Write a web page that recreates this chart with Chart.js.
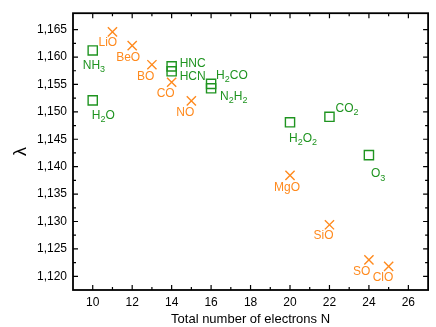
<!DOCTYPE html>
<html>
<head>
<meta charset="utf-8">
<script src="https://cdn.jsdelivr.net/npm/chart.js@4.4.1/dist/chart.umd.min.js"></script>
<style>
  html, body { margin: 0; padding: 0; background: #fff; }
  #wrap { width: 436px; height: 327px; }
</style>
</head>
<body>
<div id="wrap"><canvas id="chart" width="436" height="327"></canvas></div>
<script>
// tick values
const xTicks = [10, 12, 14, 16, 18, 20, 22, 24, 26];
const yTicks = [1.120, 1.125, 1.130, 1.135, 1.140, 1.145, 1.150, 1.155, 1.160, 1.165];

// green squares (polyatomic)
const namesGreen = ["NH_3", "H_2O", "HNC", "HCN", "H_2CO", "N_2H_2", "H_2O_2", "CO_2", "O_3"];
const electronsGreen = [10, 10, 14, 14, 16, 16, 20, 22, 24];
const lambdaGreen = [1.1612, 1.1521, 1.1583, 1.1574, 1.1551, 1.1543, 1.1481, 1.1491, 1.1421];

// orange crosses (diatomic oxides)
const namesOrange = ["LiO", "BeO", "BO", "CO", "NO", "MgO", "SiO", "SO", "ClO"];
const electronsOrange = [11, 12, 13, 14, 15, 20, 22, 24, 25];
const lambdaOrange = [1.1646, 1.1621, 1.1586, 1.1554, 1.1520, 1.1384, 1.1294, 1.1230, 1.1218];

const GREEN = "#1f9420";
const ORANGE = "#ff8a1e";
const FONT = "Liberation Sans, Arial, sans-serif";

// label placement (pixels from point centre, left edge of text)
const offGreen = [[-10, 15], [-1, 15], [8, -3], [8, 5], [5, -8], [9, 8], [-1, 16], [6, -8], [2, 19]];
const offOrange = [[-14, 11], [-16, 12], [-15, 12], [-15, 11], [-15, 12], [-16, 12], [-16, 11], [-16, 12], [-16, 11]];

const toPts = (xs, ys) => xs.map((x, i) => ({ x: x, y: ys[i] }));

// draw "H_2O" style text with subscripts
function drawChem(ctx, txt, x, y) {
  let cx = x;
  for (let i = 0; i < txt.length; i++) {
    if (txt[i] === "_") {
      i++;
      ctx.font = "9px " + FONT;
      ctx.fillText(txt[i], cx, y + 4);
      cx += ctx.measureText(txt[i]).width;
    } else {
      ctx.font = "12px " + FONT;
      ctx.fillText(txt[i], cx, y);
      cx += ctx.measureText(txt[i]).width;
    }
  }
}

const framePlugin = {
  id: "frame",
  beforeDatasetsDraw(chart) {
    const { ctx, chartArea: a, scales } = chart;
    ctx.save();
    ctx.strokeStyle = "#000";
    ctx.lineWidth = 1.8;
    ctx.strokeRect(a.left, a.top, a.right - a.left, a.bottom - a.top);
    ctx.lineWidth = 1.2;
    ctx.beginPath();
    // x ticks, major every 2, minor at odd values
    for (let v = 10; v <= 26; v++) {
      const px = scales.x.getPixelForValue(v);
      const len = (v % 2 === 0) ? 5 : 3;
      ctx.moveTo(px, a.bottom); ctx.lineTo(px, a.bottom - len);
      ctx.moveTo(px, a.top); ctx.lineTo(px, a.top + len);
    }
    // y ticks, minor halfway
    for (let k = 0; k < 20; k++) {
      const v = 1.1175 + k * 0.0025;
      const py = scales.y.getPixelForValue(v);
      if (py < a.top + 2 || py > a.bottom - 2) continue;
      const len = (k % 2 === 1) ? 5 : 3;
      ctx.moveTo(a.left, py); ctx.lineTo(a.left + len, py);
      ctx.moveTo(a.right, py); ctx.lineTo(a.right - len, py);
    }
    ctx.stroke();
    ctx.restore();
  },
  afterDatasetsDraw(chart) {
    const { ctx, scales } = chart;
    ctx.save();
    ctx.textBaseline = "middle";
    ctx.textAlign = "left";
    const put = (names, xs, ys, offs, color) => {
      ctx.fillStyle = color;
      names.forEach((n, i) => {
        const px = scales.x.getPixelForValue(xs[i]);
        const py = scales.y.getPixelForValue(ys[i]);
        drawChem(ctx, n, px + offs[i][0], py + offs[i][1]);
      });
    };
    put(namesGreen, electronsGreen, lambdaGreen, offGreen, GREEN);
    put(namesOrange, electronsOrange, lambdaOrange, offOrange, ORANGE);
    ctx.restore();
  }
};

new Chart(document.getElementById("chart"), {
  type: "scatter",
  data: {
    datasets: [
      {
        data: toPts(electronsGreen, lambdaGreen),
        pointStyle: "rect",
        pointRadius: 6.5,
        borderColor: GREEN,
        backgroundColor: "rgba(0,0,0,0)",
        borderWidth: 1.4
      },
      {
        data: toPts(electronsOrange, lambdaOrange),
        pointStyle: "crossRot",
        pointRadius: 6.5,
        borderColor: ORANGE,
        backgroundColor: ORANGE,
        borderWidth: 1.4
      }
    ]
  },
  options: {
    responsive: false,
    animation: false,
    layout: { padding: { left: 0, top: 6, right: 3, bottom: 0 } },
    plugins: { legend: { display: false }, tooltip: { enabled: false } },
    scales: {
      x: {
        type: "linear",
        min: 9, max: 27,
        afterFit: s => { s.height = 37; },
        afterBuildTicks: s => { s.ticks = xTicks.map(v => ({ value: v })); },
        grid: { display: false, drawTicks: false, tickLength: 0 },
        border: { display: false },
        ticks: { color: "#000", font: { size: 12, family: FONT }, padding: 5 },
        title: {
          display: true, text: "Total number of electrons N", color: "#000",
          font: { size: 13, family: FONT }, padding: { top: 0, bottom: 0 }
        }
      },
      y: {
        type: "linear",
        min: 1.1175, max: 1.168,
        afterFit: s => { s.width = 73; },
        afterBuildTicks: s => { s.ticks = yTicks.map(v => ({ value: v })); },
        grid: { display: false, drawTicks: false, tickLength: 0 },
        border: { display: false },
        ticks: {
          color: "#000", font: { size: 12, family: FONT }, padding: 6,
          callback: v => v.toFixed(3).replace(".", ",")
        },
        title: {
          display: true, text: "λ", color: "#000",
          font: { size: 18, family: FONT }, padding: { top: 10, bottom: 0 }
        }
      }
    }
  },
  plugins: [framePlugin]
});
</script>
</body>
</html>
